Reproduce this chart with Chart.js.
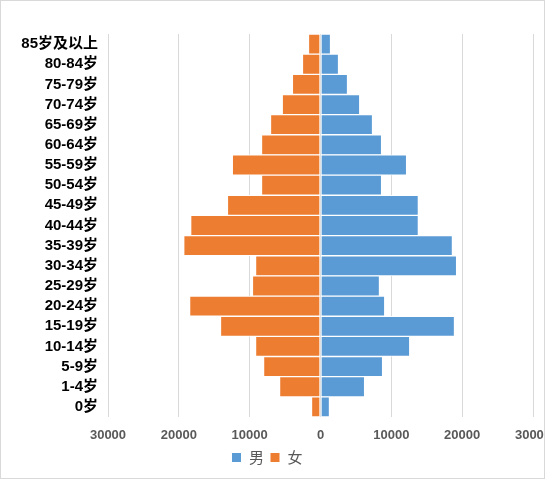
<!DOCTYPE html>
<html>
<head>
<meta charset="utf-8">
<script src="https://cdn.jsdelivr.net/npm/chart.js@4"></script>
<style>
  body { margin: 0; background: #fff; }
  #wrap { width: 545px; height: 479px; box-sizing: border-box; border: 1px solid #d9d9d9; overflow: hidden; }
</style>
</head>
<body>
<div id="wrap"><canvas id="pyramid" width="543" height="477"></canvas></div>
<script>
// age groups, top to bottom
const ageGroups = ['85岁及以上', '80-84岁', '75-79岁', '70-74岁', '65-69岁', '60-64岁', '55-59岁', '50-54岁',
    '45-49岁', '40-44岁', '35-39岁', '30-34岁', '25-29岁', '20-24岁', '15-19岁', '10-14岁', '5-9岁', '1-4岁', '0岁'];
const male = [1420, 2550, 3820, 5540, 7350, 8630, 12160, 8630, 13820, 13820, 18630, 19220, 8330, 9070, 18920, 12600, 8770, 6230, 1270];
const female = [1700, 2550, 3970, 5400, 7060, 8330, 12450, 8330, 13140, 18330, 19310, 9170, 9610, 18480, 14120, 9170, 8040, 5780, 1270];
const xTicks = [-30000, -20000, -10000, 0, 10000, 20000, 30000];

const numFont = "'Liberation Sans', 'Noto Sans CJK SC', sans-serif";

new Chart(document.getElementById('pyramid'), {
    type: 'bar',
    data: {
        labels: ageGroups,
        datasets: [
            {
                label: '男',
                data: male,
                backgroundColor: '#5b9bd5',
                borderColor: '#ffffff',
                borderWidth: 1,
                borderSkipped: false
            },
            {
                label: '女',
                data: female.map(v => -v),
                backgroundColor: '#ed7d31',
                borderColor: '#ffffff',
                borderWidth: 1,
                borderSkipped: false
            }
        ]
    },
    options: {
        indexAxis: 'y',
        responsive: false,
        animation: false,
        layout: { padding: { top: 33, right: 11, left: 0, bottom: 0 } },
        datasets: { bar: { categoryPercentage: 1, barPercentage: 1 } },
        scales: {
            x: {
                stacked: true,
                min: -30000, max: 30000,
                afterBuildTicks: s => { s.ticks = xTicks.map(v => ({ value: v })); },
                afterFit: s => { s.paddingLeft = 0; s.paddingRight = 0; s.height = 27; },
                grid: { color: '#d9d9d9', drawTicks: false },
                border: { display: false },
                ticks: {
                    padding: 11,
                    color: '#595959',
                    font: { family: numFont, size: 13, weight: 'bold' },
                    callback: v => Math.abs(v)
                }
            },
            y: {
                stacked: true,
                afterFit: s => { s.width = 107; },
                grid: { display: false, drawTicks: false },
                border: { display: false },
                ticks: {
                    autoSkip: false,
                    padding: 10,
                    color: '#000000',
                    font: { family: numFont, size: 15, weight: 'bold' }
                }
            }
        },
        plugins: {
            legend: {
                position: 'bottom',
                labels: {
                    boxWidth: 10, boxHeight: 10, padding: 6,
                    color: '#595959',
                    font: { family: "'Noto Sans CJK SC', sans-serif", size: 15 }
                }
            },
            tooltip: { enabled: false }
        }
    },
    plugins: [{
        id: 'legendHeight',
        afterInit: c => {
            const lg = c.legend;
            const origFit = lg.fit.bind(lg);
            lg.fit = function () { origFit(); this.height = 34; };
        }
    }]
});
</script>
</body>
</html>
